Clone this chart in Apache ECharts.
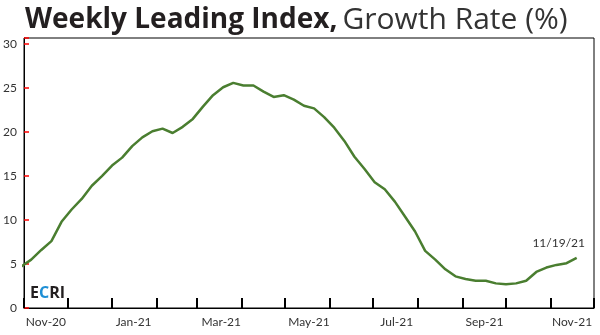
<!DOCTYPE html>
<html>
<head>
<meta charset="utf-8">
<script src="https://cdn.jsdelivr.net/npm/echarts@6/dist/echarts.min.js"></script>
<style>
html,body{margin:0;padding:0;background:#fff;}
#c{width:600px;height:335px;}
</style>
</head>
<body>
<div id="c"></div>
<script>
var dates = ['2020-10-30','2020-11-06','2020-11-13','2020-11-20','2020-11-27','2020-12-04','2020-12-11','2020-12-18','2020-12-25',
'2021-01-01','2021-01-08','2021-01-15','2021-01-22','2021-01-29','2021-02-05','2021-02-12','2021-02-19','2021-02-26',
'2021-03-05','2021-03-12','2021-03-19','2021-03-26','2021-04-02','2021-04-09','2021-04-16','2021-04-23','2021-04-30',
'2021-05-07','2021-05-14','2021-05-21','2021-05-28','2021-06-04','2021-06-11','2021-06-18','2021-06-25',
'2021-07-02','2021-07-09','2021-07-16','2021-07-23','2021-07-30','2021-08-06','2021-08-13','2021-08-20','2021-08-27',
'2021-09-03','2021-09-10','2021-09-17','2021-09-24','2021-10-01','2021-10-08','2021-10-15','2021-10-22','2021-10-29',
'2021-11-05','2021-11-12','2021-11-19'];
var growth = [4.7,5.5,6.6,7.6,9.8,11.2,12.4,13.9,15.0,
16.2,17.1,18.4,19.4,20.1,20.4,19.9,20.6,21.5,
22.9,24.2,25.1,25.6,25.3,25.3,24.6,24.0,24.2,
23.7,23.0,22.7,21.7,20.5,19.0,17.2,15.8,
14.3,13.5,12.1,10.4,8.7,6.5,5.5,4.4,3.6,
3.3,3.1,3.1,2.8,2.7,2.8,3.1,4.1,4.6,
4.9,5.1,5.7];
var monthLabels = ['Nov-20','Dec-20','Jan-21','Feb-21','Mar-21','Apr-21','May-21','Jun-21','Jul-21','Aug-21','Sep-21','Oct-21','Nov-21'];
var yTicks = [0,5,10,15,20,25,30];
var yTop = 30.7;
var lastLabel = '11/19/21';

var FONT = 'Lato';
var chart = echarts.init(document.getElementById('c'));
var seriesData = dates.map(function(d,i){
  var item = {value:[d, growth[i]]};
  if (i === dates.length-1) {
    item.label = {show:true, formatter:lastLabel, position:'top', offset:[-18,-4],
      color:'#333', fontSize:12, fontFamily:FONT};
  }
  return item;
});
chart.setOption({
  animation:false,
  title:{
    text:'{b|Weekly Leading Index,} {r|Growth Rate (%)}',
    left:20, top:0,
    textStyle:{rich:{
      b:{fontSize:28, fontWeight:'bold', color:'#231f20', fontFamily:'Open Sans'},
      r:{fontSize:30, fontWeight:'normal', color:'#333', fontFamily:'Open Sans'}
    }}
  },
  grid:{left:24, right:6, top:38, bottom:27, show:true, borderColor:'#000', borderWidth:1, containLabel:false},
  xAxis:[{
    type:'time', min:'2020-11-01', max:'2021-12-01', splitNumber:13,
    axisLine:{show:true, lineStyle:{color:'#000', width:1}},
    axisTick:{show:true, inside:true, length:10, lineStyle:{color:'#000', width:2}},
    axisLabel:{show:true, formatter:function(){return '';}}, splitLine:{show:false}, minorTick:{show:false}
  },{
    type:'category', data:monthLabels, position:'bottom', boundaryGap:true,
    axisLine:{show:false}, axisTick:{show:false},
    axisLabel:{interval:1, color:'#333', fontSize:12, fontFamily:FONT, margin:8}
  }],
  yAxis:{
    type:'value', min:yTicks[0], max:yTop, interval:5,
    axisLine:{show:true, lineStyle:{color:'#000'}},
    axisTick:{show:true, inside:true, length:5, lineStyle:{color:'#f00', width:1.5}},
    axisLabel:{color:'#333', fontSize:12, fontFamily:FONT, margin:7,
      formatter:function(v){ return yTicks.indexOf(v) >= 0 ? String(v) : ''; }},
    splitLine:{show:false}
  },
  graphic:[{
    type:'text', left:30, top:285,
    style:{text:'{d|E}{c|C}{d|RI}', rich:{
      d:{fontSize:16, fontWeight:'bold', fill:'#231f20', fontFamily:'Open Sans'},
      c:{fontSize:16, fontWeight:'bold', fill:'#1e8fd5', fontFamily:'Open Sans'}
    }}
  }],
  series:[{
    type:'line', xAxisIndex:0, data:seriesData, showSymbol:true, symbol:'circle', symbolSize:0,
    lineStyle:{color:'#4a7e30', width:2.5}, itemStyle:{color:'#4a7e30'}, clip:true
  }]
});
</script>
</body>
</html>
